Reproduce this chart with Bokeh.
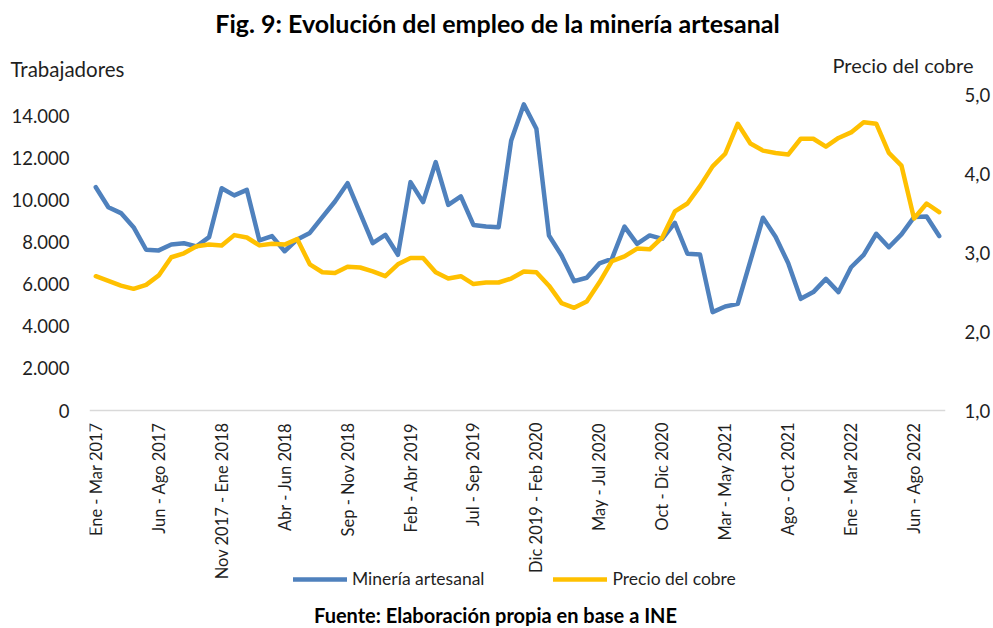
from math import pi
from bokeh.plotting import figure
from bokeh.models import (Range1d, LinearAxis, FixedTicker, Label, Legend,
                          LegendItem, ColumnDataSource)
from bokeh.embed import file_html
from bokeh.resources import INLINE

periods = [
    "Ene - Mar 2017", "Feb - Abr 2017", "Mar - May 2017", "Abr - Jun 2017",
    "May - Jul 2017", "Jun - Ago 2017", "Jul - Sep 2017", "Ago - Oct 2017",
    "Sep - Nov 2017", "Oct - Dic 2017", "Nov 2017 - Ene 2018", "Dic 2017 - Feb 2018",
    "Ene - Mar 2018", "Feb - Abr 2018", "Mar - May 2018", "Abr - Jun 2018",
    "May - Jul 2018", "Jun - Ago 2018", "Jul - Sep 2018", "Ago - Oct 2018",
    "Sep - Nov 2018", "Oct - Dic 2018", "Nov 2018 - Ene 2019", "Dic 2018 - Feb 2019",
    "Ene - Mar 2019", "Feb - Abr 2019", "Mar - May 2019", "Abr - Jun 2019",
    "May - Jul 2019", "Jun - Ago 2019", "Jul - Sep 2019", "Ago - Oct 2019",
    "Sep - Nov 2019", "Oct - Dic 2019", "Nov 2019 - Ene 2020", "Dic 2019 - Feb 2020",
    "Ene - Mar 2020", "Feb - Abr 2020", "Mar - May 2020", "Abr - Jun 2020",
    "May - Jul 2020", "Jun - Ago 2020", "Jul - Sep 2020", "Ago - Oct 2020",
    "Sep - Nov 2020", "Oct - Dic 2020", "Nov 2020 - Ene 2021", "Dic 2020 - Feb 2021",
    "Ene - Mar 2021", "Feb - Abr 2021", "Mar - May 2021", "Abr - Jun 2021",
    "May - Jul 2021", "Jun - Ago 2021", "Jul - Sep 2021", "Ago - Oct 2021",
    "Sep - Nov 2021", "Oct - Dic 2021", "Nov 2021 - Ene 2022", "Dic 2021 - Feb 2022",
    "Ene - Mar 2022", "Feb - Abr 2022", "Mar - May 2022", "Abr - Jun 2022",
    "May - Jul 2022", "Jun - Ago 2022", "Jul - Sep 2022", "Ago - Oct 2022",
]

empleo = [
    10600, 9650, 9370, 8700, 7630, 7600, 7880, 7940, 7790, 8230,
    10550, 10210, 10470, 8070, 8280, 7560, 8120, 8430, 9180, 9920,
    10790, 9370, 7940, 8340, 7390, 10840, 9890, 11790, 9760, 10160,
    8810, 8730, 8700, 12820, 14530, 13370, 8310, 7360, 6140, 6300,
    6980, 7200, 8730, 7910, 8310, 8150, 8910, 7440, 7400, 4670,
    4940, 5060, 7100, 9150, 8250, 7000, 5300, 5620, 6250, 5620,
    6800, 7390, 8390, 7750, 8360, 9180, 9210, 8280,
]

cobre = [
    2.70, 2.64, 2.58, 2.54, 2.59, 2.71, 2.94, 2.99, 3.08, 3.10,
    3.09, 3.22, 3.19, 3.09, 3.11, 3.10, 3.17, 2.85, 2.75, 2.74,
    2.82, 2.81, 2.76, 2.70, 2.85, 2.93, 2.93, 2.75, 2.67, 2.70,
    2.60, 2.62, 2.62, 2.67, 2.76, 2.75, 2.58, 2.36, 2.30, 2.38,
    2.62, 2.89, 2.95, 3.05, 3.04, 3.19, 3.52, 3.62, 3.84, 4.09,
    4.25, 4.63, 4.38, 4.29, 4.26, 4.24, 4.44, 4.44, 4.34, 4.45,
    4.52, 4.65, 4.63, 4.26, 4.10, 3.43, 3.62, 3.51,
]

left_ticks = [0, 2000, 4000, 6000, 8000, 10000, 12000, 14000]
left_tick_labels = ["0", "2.000", "4.000", "6.000", "8.000", "10.000", "12.000", "14.000"]
right_ticks = [1, 2, 3, 4, 5]
right_tick_labels = ["1,0", "2,0", "3,0", "4,0", "5,0"]
shown_period_ticks = list(range(0, len(periods), 5))

FONT = "Lato"
TXT = "#1f1f1f"
BLUE = "#4F81BD"
GOLD = "#FFC000"

# geometry in page pixels: plotting area 89..945 x 94..410, canvas bottom 626
FL, FT, FW = 89, 94, 856
AXIS_Y = 410            # where value 0 / 1,0 sits
CANVAS_B = 626
FH = CANVAS_B - FT      # frame reaches the canvas bottom (room for legend/footer)
PX_PER_EMP = (AXIS_Y - FT) / 15000
PX_PER_CU = (AXIS_Y - FT) / 4.0

X0, X1 = -0.5, len(periods) - 0.5
Y_TOP = 15000
Y_BOT = -(CANVAS_B - AXIS_Y) / PX_PER_EMP
CU_TOP = 5.0
CU_BOT = 1.0 - (CANVAS_B - AXIS_Y) / PX_PER_CU

idx = list(range(len(periods)))
src = ColumnDataSource(dict(x=idx, empleo=empleo, cobre=cobre))

p = figure(frame_width=FW, frame_height=FH, output_backend="svg", toolbar_location=None,
           x_range=Range1d(X0, X1), y_range=Range1d(Y_BOT, Y_TOP),
           min_border_left=FL, min_border_right=47, min_border_top=FT,
           min_border_bottom=0)
p.extra_y_ranges = {"precio": Range1d(CU_BOT, CU_TOP)}
p.outline_line_color = None
p.xgrid.visible = False
p.ygrid.visible = False

xa = p.xaxis[0]
xa.fixed_location = 0
xa.ticker = FixedTicker(ticks=shown_period_ticks)
xa.major_label_overrides = {i: periods[i] for i in shown_period_ticks}
xa.major_label_orientation = pi / 2
xa.major_tick_line_color = None
xa.major_tick_out = 0
xa.major_tick_in = 0
xa.minor_tick_line_color = None
xa.axis_line_color = "#D9D9D9"
xa.axis_line_width = 1.5
xa.major_label_standoff = 12
xa.major_label_text_font = FONT
xa.major_label_text_font_size = "16.5px"
xa.major_label_text_color = TXT

ya = p.yaxis[0]
ya.ticker = FixedTicker(ticks=left_ticks)
ya.major_label_overrides = dict(zip(left_ticks, left_tick_labels))
ya.axis_line_color = None
ya.major_tick_line_color = None
ya.major_tick_out = 0
ya.major_tick_in = 0
ya.minor_tick_line_color = None
ya.major_label_standoff = 20
ya.major_label_text_font = FONT
ya.major_label_text_font_size = "18.5px"
ya.major_label_text_color = TXT

ra = LinearAxis(y_range_name="precio")
ra.ticker = FixedTicker(ticks=right_ticks)
ra.major_label_overrides = dict(zip(right_ticks, right_tick_labels))
ra.axis_line_color = None
ra.major_tick_line_color = None
ra.major_tick_out = 0
ra.major_tick_in = 0
ra.minor_tick_line_color = None
ra.major_label_standoff = 19
ra.major_label_text_font = FONT
ra.major_label_text_font_size = "18.5px"
ra.major_label_text_color = TXT
p.add_layout(ra, "right")

r1 = p.line("x", "empleo", source=src, line_color=BLUE, line_width=4.5,
            line_join="round", line_cap="round")
r2 = p.line("x", "cobre", source=src, y_range_name="precio", line_color=GOLD,
            line_width=4.5, line_join="round", line_cap="round")

# legend: bottom-left corner given in pixels from the frame's bottom-left
legend = Legend(items=[LegendItem(label="Minería artesanal", renderers=[r1]),
                       LegendItem(label="Precio del cobre", renderers=[r2])],
                orientation="horizontal", location=(293 - FL, CANVAS_B - 589),
                glyph_width=54, glyph_height=18, label_standoff=5, spacing=69,
                padding=0, margin=0, border_line_color=None,
                background_fill_alpha=0, label_text_font=FONT,
                label_text_font_size="17.5px", label_text_color=TXT)
p.add_layout(legend, "center")


def dx(px):
    return X0 + (px - FL) / FW * (X1 - X0)


def dy(py):
    return Y_TOP - (py - FT) / FH * (Y_TOP - Y_BOT)


def lab(text, px, py, size, side=None, bold=False, align="left"):
    label = Label(x=dx(px), y=dy(py), text=text, text_font=FONT,
                  text_font_size=size,
                  text_font_style="bold" if bold else "normal",
                  text_color="black" if bold else TXT,
                  text_align=align, text_baseline="middle")
    if side:
        p.add_layout(label, side)
    else:
        p.add_layout(label)


lab("Fig. 9: Evolución del empleo de la minería artesanal", 497, 22, "25px", "above", True, "center")
lab("Trabajadores", 10, 68, "20.5px", "above")
lab("Precio del cobre", 832, 64, "20px", "above")
lab("Fuente: Elaboración propia en base a INE", 495, 614, "20px", None, True, "center")

open("out.html", "w").write(file_html(p, INLINE))
